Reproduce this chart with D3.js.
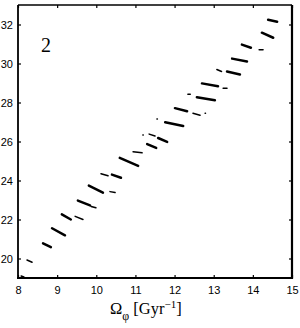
<!DOCTYPE html>
<html>
<head>
<meta charset="utf-8">
<script src="https://cdn.jsdelivr.net/npm/d3@7/dist/d3.min.js"></script>
<style>
body { margin: 0; background: #fff; }
.tick text { font-family: "Liberation Sans", Arial, sans-serif; font-size: 11px; }
</style>
</head>
<body>
<div id="chart"></div>
<script>
// tick values
var xTicks = [8, 9, 10, 11, 12, 13, 14, 15];
var yTicks = [20, 22, 24, 26, 28, 30, 32];

// dense groups of orbits: [x start, y start, x end, y end]
var mainClusters = [
	[8.64, 20.78, 8.84, 20.58],
	[8.87, 21.55, 9.20, 21.19],
	[9.12, 22.26, 9.35, 22.00],
	[9.53, 22.97, 9.84, 22.72],
	[9.81, 23.74, 10.17, 23.38],
	[10.40, 24.30, 10.63, 24.14],
	[10.60, 25.16, 11.07, 24.75],
	[11.30, 25.87, 11.53, 25.67],
	[11.58, 26.18, 11.81, 25.98],
	[11.76, 26.99, 12.22, 26.79],
	[12.01, 27.71, 12.32, 27.55],
	[12.57, 28.27, 13.03, 28.11],
	[12.70, 28.98, 13.11, 28.83],
	[13.34, 29.59, 13.67, 29.44],
	[13.47, 30.25, 13.85, 30.10],
	[13.72, 30.97, 13.95, 30.81],
	[14.23, 31.58, 14.52, 31.32],
	[14.39, 32.24, 14.62, 32.14]
];
// sparse groups
var minorClusters = [
	[8.08, 19.10, 8.15, 19.05],
	[8.23, 19.92, 8.36, 19.81],
	[9.46, 22.16, 9.66, 22.00],
	[9.87, 22.67, 9.99, 22.60],
	[10.35, 23.43, 10.48, 23.38],
	[10.12, 24.35, 10.30, 24.24],
	[10.94, 25.47, 11.17, 25.42],
	[11.19, 26.33, 11.20, 26.33],
	[11.35, 26.38, 11.50, 26.28],
	[11.55, 27.15, 11.56, 27.15],
	[12.47, 27.45, 12.65, 27.35],
	[12.78, 27.45, 12.79, 27.45],
	[12.34, 28.42, 12.40, 28.42],
	[13.24, 28.73, 13.34, 28.73],
	[13.08, 29.69, 13.20, 29.59],
	[14.16, 30.70, 14.26, 30.70]
];

var margin = {top: 5, right: 8, bottom: 50, left: 18},
	width = 300 - margin.left - margin.right,
	height = 328 - margin.top - margin.bottom;

var svg = d3.select("#chart").append("svg")
		.attr("width", 300)
		.attr("height", 328)
	.append("g")
		.attr("transform", "translate(" + margin.left + "," + margin.top + ")");

var x = d3.scaleLinear().domain([8, 15]).range([0, width]);
var y = d3.scaleLinear().domain([19, 33]).range([height, 0]);

// clusters
function drawClusters(data, w) {
	svg.append("g").selectAll("line")
			.data(data)
		.enter().append("line")
			.attr("x1", function(d) { return x(d[0]); })
			.attr("y1", function(d) { return y(d[1]); })
			.attr("x2", function(d) { return x(d[2]); })
			.attr("y2", function(d) { return y(d[3]); })
			.attr("stroke", "#000")
			.attr("stroke-width", w)
			.attr("stroke-linecap", "round");
}
drawClusters(mainClusters, 2.5);
drawClusters(minorClusters, 1.5);

// axes, ticks pointing inward
var fmt = d3.format("d");
var xBottom = d3.axisBottom(x).tickValues(xTicks).tickSize(-3).tickPadding(8).tickFormat(fmt);
var xTop = d3.axisTop(x).tickValues(xTicks).tickSize(-3).tickFormat("");
var yLeft = d3.axisLeft(y).tickValues(yTicks).tickSize(-3).tickPadding(5).tickFormat(fmt);
var yRight = d3.axisRight(y).tickValues(yTicks).tickSize(-3).tickFormat("");

svg.append("g").attr("class", "xaxis").attr("transform", "translate(0," + height + ")").call(xBottom);
svg.append("g").attr("class", "xaxis2").call(xTop);
svg.append("g").attr("class", "yaxis").call(yLeft);
svg.append("g").attr("class", "yaxis2").attr("transform", "translate(" + width + ",0)").call(yRight);

svg.selectAll(".domain").remove();
svg.selectAll(".tick line").attr("stroke", "#000").attr("stroke-width", 1.2);
svg.selectAll(".tick text").attr("fill", "#000");

// frame
svg.append("line").attr("x1", 0).attr("x2", width).attr("y1", 0).attr("y2", 0)
	.attr("stroke", "#000").attr("stroke-width", 1.3);
svg.append("line").attr("x1", 0).attr("x2", 0).attr("y1", 0).attr("y2", height)
	.attr("stroke", "#000").attr("stroke-width", 1.8);
svg.append("line").attr("x1", -1).attr("x2", width + 1).attr("y1", height).attr("y2", height)
	.attr("stroke", "#000").attr("stroke-width", 2.2);
svg.append("line").attr("x1", width).attr("x2", width).attr("y1", 0).attr("y2", height + 1)
	.attr("stroke", "#000").attr("stroke-width", 2.2);

// panel number
svg.append("text").attr("x", 23).attr("y", 47)
	.text("2")
	.attr("font-family", "Liberation Serif, Times New Roman, serif")
	.attr("font-size", "20px")
	.attr("fill", "#000");

// x label
var xlab = svg.append("text")
	.attr("x", 92).attr("y", 309)
	.attr("font-family", "Liberation Serif, Times New Roman, serif")
	.attr("font-size", "16.5px")
	.attr("fill", "#000");
xlab.append("tspan").text("Ω");
xlab.append("tspan").attr("dy", 6).attr("font-size", "12px").text("φ");
xlab.append("tspan").attr("dy", -6).text(" [Gyr");
xlab.append("tspan").attr("dy", -6).attr("font-size", "11px").text("−1");
xlab.append("tspan").attr("dy", 6).text("]");
</script>
</body>
</html>
